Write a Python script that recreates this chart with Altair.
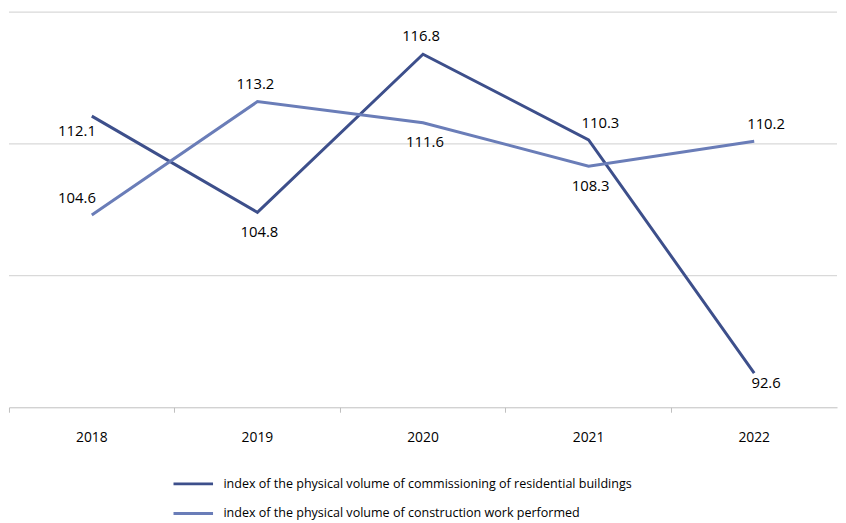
import altair as alt
import pandas as pd

years = ["2018", "2019", "2020", "2021", "2022"]
series_names = [
    "index of the physical volume of commissioning of residential buildings",
    "index of the physical volume of construction work performed",
]
commissioning = [112.1, 104.8, 116.8, 110.3, 92.6]
construction = [104.6, 113.2, 111.6, 108.3, 110.2]
# label placement for each value (relative to its point)
commissioning_place = ["lowleft", "below", "above", "upright", "lowright"]
construction_place = ["upleft", "above", "below", "below", "upright"]
# horizontal gridline values
grid_values = [100, 110, 120]

colors = ["#3d4f8b", "#6a7db8"]
FONT = "Open Sans"

rows = []
for y, v, p in zip(years, commissioning, commissioning_place):
    rows.append({"year": y, "value": v, "series": series_names[0], "place": p})
for y, v, p in zip(years, construction, construction_place):
    rows.append({"year": y, "value": v, "series": series_names[1], "place": p})
df = pd.DataFrame(rows)
grid_df = pd.DataFrame({"g": grid_values})

offsets = {
    "lowleft": (-15, 15),
    "upleft": (-15, -17),
    "above": (-2, -18),
    "below": (2, 20),
    "upright": (12, -17),
    "lowright": (12, 10),
}

y_scale = alt.Scale(domain=[90, 120], nice=False, zero=False)

x_enc = alt.X(
    "year:N",
    sort=years,
    title=None,
    scale=alt.Scale(type="band", paddingInner=0, paddingOuter=0),
    axis=alt.Axis(
        labelAngle=0,
        labelFont=FONT,
        labelFontSize=14,
        labelColor="#000000",
        labelPadding=19,
        domainColor="#bfbfbf",
        domainWidth=1,
        tickColor="#bfbfbf",
        tickSize=5,
        bandPosition=0,
        grid=False,
    ),
)
y_enc = alt.Y("value:Q", title=None, scale=y_scale, axis=None)

grid = (
    alt.Chart(grid_df)
    .mark_rule(color="#d9d9d9", strokeWidth=1.3)
    .encode(y=alt.Y("g:Q", scale=y_scale, axis=None))
)

base = alt.Chart(df)

lines = base.mark_line(strokeWidth=3).encode(
    x=x_enc,
    y=y_enc,
    color=alt.Color(
        "series:N",
        sort=series_names,
        scale=alt.Scale(domain=series_names, range=colors),
        legend=alt.Legend(
            title=None,
            orient="none",
            legendX=175,
            legendY=466,
            direction="vertical",
            symbolType="M-2,0H2",
            symbolSize=400,
            symbolStrokeWidth=3,
            labelFont=FONT,
            labelFontSize=12.7,
            labelColor="#000000",
            labelLimit=600,
            labelOffset=19,
            rowPadding=11,
        ),
    ),
)

layers = [grid, lines]
for place, (dx, dy) in offsets.items():
    layers.append(
        base.transform_filter(alt.datum.place == place)
        .mark_text(font=FONT, fontSize=15, color="#000000", dx=dx, dy=dy)
        .encode(x=x_enc, y=y_enc, text=alt.Text("value:Q", format=".1f"))
    )

chart = (
    alt.layer(*layers)
    .properties(width=838, height=400, padding={"left": 0, "top": 0, "right": 0, "bottom": 0})
    .configure(background="#ffffff")
    .configure_view(stroke="transparent", strokeWidth=0)
)

chart.save("out.html", embed_options={"renderer": "svg", "actions": False})
